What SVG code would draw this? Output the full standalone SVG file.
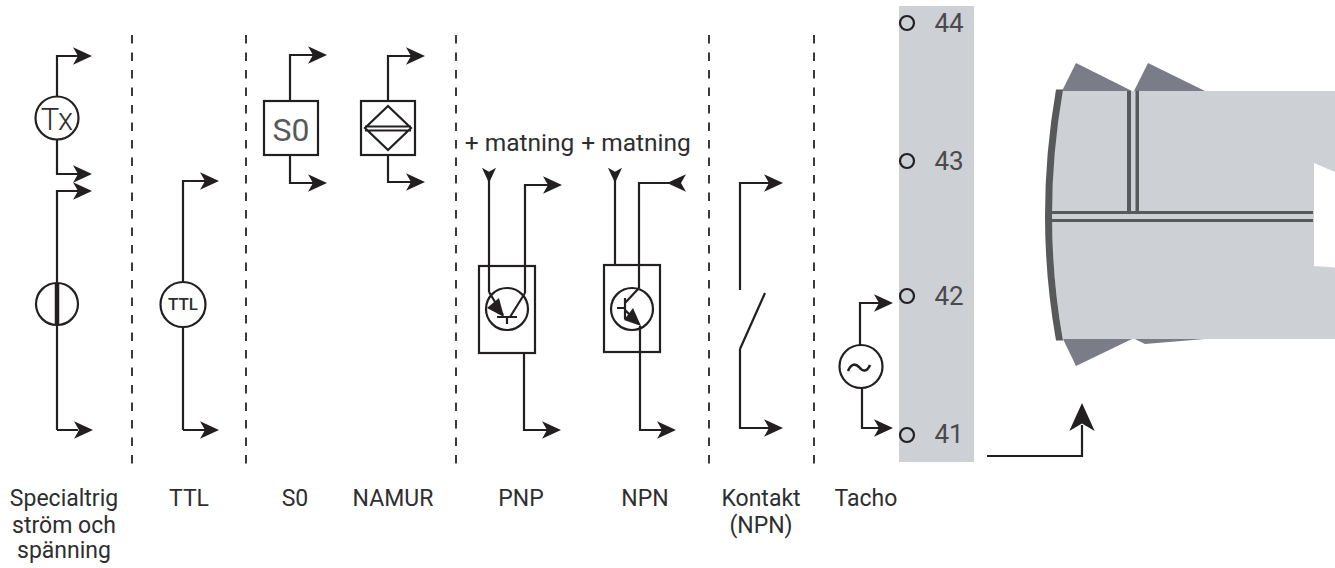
<svg xmlns="http://www.w3.org/2000/svg" width="1335" height="568" viewBox="0 0 1335 568">
<style>
.w{fill:none;stroke:#231f20;stroke-width:2.200}
.n{fill:#fff;stroke:#231f20;stroke-width:2.200}
.d{fill:none;stroke:#3a3a3c;stroke-width:2;stroke-dasharray:8.500 9}
.h{fill:#231f20}
.t{font-family:Roboto,"Open Sans",sans-serif;font-size:23px;fill:#2e2e30;text-anchor:middle}
.m{font-size:26px;fill:#4a4a4c}
.p{font-size:24.500px}
.k{fill:#cdd0d5}
.g{fill:#7a7d87}
.b{fill:#58595b}
</style>
<defs>
<path id="a" class="h" d="M0 0L-19-8.800L-14 0L-19 8.800Z"/>
</defs>
<rect width="1335" height="568" fill="#fff"/>
<g id="separators">
<path class="d" d="M132 35V464M246 35V464M456 35V464M709 35V464M814 35V464"/>
</g>
<g id="strip">
<rect class="k" x="899" y="6" width="75" height="456"/>
</g>
<g id="device">
<path class="g" d="M1062 91L1076 63L1132 91ZM1134 91L1148 63L1205 91ZM1063 339L1076 366L1132 339ZM1135 339L1145 344L1205 339Z"/>
<path class="k" d="M1062 91H1335V172L1314 163V266L1335 267.500V339H1063Q1041 216 1062 91Z"/>
<path class="b" d="M1056 89.500H1063Q1041 216 1063 340.500H1056Q1034 216 1056 89.500Z"/>
<path class="b" d="M1127 91H1131V211H1127ZM1135.500 91H1139V211H1135.500ZM1051.500 211H1313V214H1051.500ZM1051.500 219H1313V222H1051.500Z"/>
</g>
<g id="connectors">
<path class="w" d="M57 97V56H78M57 139V174H78M57 430V191H78M57 430H78"/>
<path class="w" d="M183 430V181H205M183 430H205"/>
<path class="w" d="M290 101V55H313M290 155V183H313"/>
<path class="w" d="M388 101V56H411M388 155V182H411"/>
<path class="w" d="M489 176V292M525 293V185H548M524 353V430H547"/>
<path class="w" d="M615 176V265M639 288V183H672M640 326V430H662"/>
<path class="w" d="M740 290V183H769M740 349V428H769M765 293L740 349"/>
<path class="w" d="M860 345V303H879M862 387V428H879"/>
<path class="w" d="M987 456H1082V425"/>
<use href="#a" x="92" y="56"/><use href="#a" x="92" y="174"/><use href="#a" x="92" y="191"/><use href="#a" x="93" y="430"/>
<use href="#a" x="219" y="181"/><use href="#a" x="219" y="430"/>
<use href="#a" x="327" y="55"/><use href="#a" x="327" y="183"/>
<use href="#a" x="425" y="56"/><use href="#a" x="425" y="182"/>
<use href="#a" transform="translate(489 183) rotate(90) scale(.8)"/>
<use href="#a" x="562" y="185"/><use href="#a" x="561" y="430"/>
<use href="#a" transform="translate(615 183) rotate(90) scale(.8)"/>
<use href="#a" transform="translate(667 183) rotate(180)"/>
<use href="#a" x="676" y="430"/>
<use href="#a" x="783" y="183"/><use href="#a" x="783" y="428"/>
<use href="#a" x="893" y="303"/><use href="#a" x="893" y="428"/>
<use href="#a" transform="translate(1082 403) rotate(-90) scale(1.470 1.440)"/>
</g>
<g id="tx"><circle class="n" cx="57" cy="118" r="21.500"/><text class="t" x="57" y="130" style="font-size:31px;font-weight:300">Tx</text></g>
<g id="special"><circle class="n" cx="57" cy="304" r="21"/><path d="M57 283V325" stroke="#231f20" stroke-width="4.500"/></g>
<g id="ttl"><circle class="n" cx="183" cy="304.500" r="22.500"/><text class="t" x="183" y="310" style="font-size:17px;font-weight:500">TTL</text></g>
<g id="s0"><rect class="n" x="264" y="101" width="54" height="54"/><text class="t" x="291" y="141" style="font-size:32px;fill:#58595b">S0</text></g>
<g id="namur"><rect class="n" x="361" y="101" width="54" height="54"/><path class="w" d="M388 106L411 128L388 150L365 128ZM365 126.500H411M365 130.500H411"/></g>
<g id="pnp"><rect class="w" x="479" y="266" width="56" height="87"/><circle class="w" cx="507" cy="309" r="21"/><path class="w" d="M489 292L503 315M525 293L510 317M497 317H517M507 317V324"/><path class="h" d="M504 317L487 308L499 298Z"/></g>
<g id="npn"><rect class="w" x="604" y="265" width="56" height="87"/><circle class="w" cx="632" cy="309" r="21"/><path class="w" d="M639 288L625 303M625 310L637 322M625 298V319M617 308H625"/><path class="h" d="M641 326L624 320L633 308Z"/></g>
<g id="tacho"><circle class="n" cx="861" cy="366.500" r="21.500"/><path class="w" style="stroke-width:2.600" d="M848 371C851 364 855 363 859 367C863 372 867 372 870 365"/></g>
<g id="terminals">
<circle class="w" cx="907" cy="23" r="7"/><circle class="w" cx="907" cy="161" r="7"/><circle class="w" cx="907" cy="296" r="7"/><circle class="w" cx="907" cy="435" r="7"/>
<text class="t m" x="949" y="32">44</text>
<text class="t m" x="949" y="170">43</text>
<text class="t m" x="949" y="305">42</text>
<text class="t m" x="949" y="443">41</text>
</g>
<g id="labels">
<text class="t p" x="519.500" y="151">+ matning</text>
<text class="t p" x="636" y="151">+ matning</text>
<text class="t" x="64" y="506">Specialtrig</text>
<text class="t" x="64" y="533">ström och</text>
<text class="t" x="64" y="558">spänning</text>
<text class="t" x="189" y="506">TTL</text>
<text class="t" x="295" y="506">S0</text>
<text class="t" x="393" y="506">NAMUR</text>
<text class="t" x="521" y="506">PNP</text>
<text class="t" x="645" y="506">NPN</text>
<text class="t" x="761" y="506">Kontakt</text>
<text class="t" x="761" y="533">(NPN)</text>
<text class="t" x="866" y="506">Tacho</text>
</g>
</svg>
